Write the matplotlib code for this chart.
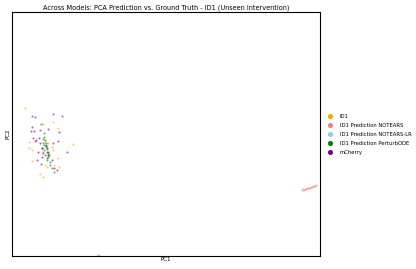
import numpy as np
import matplotlib.pyplot as plt

# PCA coordinates
id1_pc1 = [-14.1, -12.3, -10.8, -9.3, -13.7, -13.7, -13.4, -11.3, -10.8, -13.4, -12.1,
           -11.9, -10.7, -12.6, -12.3, -11.8, -11.4, -12.1, -11.2, -12.4, -11.8, -11.3]
id1_pc2 = [2.6, 1.0, 0.6, -1.0, -0.8, -1.4, -1.6, -1.6, -2.4, -2.7, -3.1,
           -3.3, -3.3, -4.0, -4.3, -0.9, -1.3, -0.8, -3.1, -1.8, -2.1, 1.2]

notears_pc1 = [13.6, 13.7, 13.8, 13.9, 14.0, 14.1, 14.2, 14.3, 14.4, 14.5, 14.6, 14.7, 14.8, 14.9, 15.0]
notears_pc2 = [-5.6, -5.52, -5.58, -5.47, -5.5, -5.42, -5.44, -5.36, -5.38, -5.28, -5.3, -5.22, -5.24, -5.15, -5.1]

notears_lr_pc1 = [-6.85, -6.8, -6.75, -6.8]
notears_lr_pc2 = [-12.1, -12.15, -12.1, -12.05]

perturbode_pc1 = [-12.5, -12.2, -12.1, -12.3, -12.0, -11.9, -12.2, -11.8, -12.1, -11.8, -11.9, -11.6, -11.4,
                  -12.0, -12.2, -11.8, -12.0, -12.4, -11.9, -11.2, -12.2, -11.9, -12.3, -11.7, -11.6]
perturbode_pc2 = [1.0, -0.3, -0.6, -0.9, -1.2, -1.4, -1.6, -1.8, -2.1, -2.3, -2.6, -2.8, -3.4,
                  -1.3, -1.1, -1.9, -0.9, -1.4, -2.4, -3.8, 0.1, -1.5, -0.5, -2.1, -3.1]

mcherry_pc1 = [-13.4, -13.1, -11.3, -10.4, -13.4, -13.5, -13.2, -12.6, -11.8, -10.7, -13.3, -13.0, -12.7, -10.8, -11.3,
               -12.6, -13.1, -12.0, -12.4, -9.9, -12.3, -11.8, -12.4, -11.4, -12.9, -11.2, -10.9, -12.5, -11.9, -12.8]
mcherry_pc2 = [1.8, 1.7, 2.0, 1.8, 0.7, 0.3, 0.3, 0.4, 0.5, 0.2, -0.4, -0.6, -0.4, -0.7, -0.9,
               -0.9, -0.7, -1.1, -1.4, -1.8, -1.9, -2.1, -2.3, -2.6, -2.6, -3.4, -3.6, -3.0, -1.8, -1.8]

series = [
    ('ID1', id1_pc1, id1_pc2, 'orange'),
    ('ID1 Prediction NOTEARS', notears_pc1, notears_pc2, 'lightcoral'),
    ('ID1 Prediction NOTEARS-LR', notears_lr_pc1, notears_lr_pc2, 'lightskyblue'),
    ('ID1 Prediction PerturbODE', perturbode_pc1, perturbode_pc2, 'green'),
    ('mCherry', mcherry_pc1, mcherry_pc2, 'purple'),
]

fig = plt.figure(figsize=(4.16, 2.69), dpi=100)
ax = fig.add_axes([0.029, 0.048, 0.74, 0.907])

for label, x, y, c in series:
    ax.scatter(x, y, s=2.2, color=c, alpha=0.6, linewidths=0, label=label)

ax.set_xlim(-15.4, 15.4)
ax.set_ylim(-12.2, 12.2)
ax.set_xticks([])
ax.set_yticks([])
ax.set_xlabel('PC1', fontsize=4, labelpad=1)
ax.set_ylabel('PC2', fontsize=4, labelpad=1)
ax.set_title('Across Models: PCA Prediction vs. Ground Truth - ID1 (Unseen Intervention)', fontsize=4.7, pad=2)

leg = ax.legend(loc='center left', bbox_to_anchor=(1.0, 0.5), frameon=False, fontsize=3.8,
                markerscale=2.5, handletextpad=0.9, labelspacing=0.75)
for h in leg.legend_handles:
    h.set_alpha(1)

fig.savefig('out.png', dpi=100)
